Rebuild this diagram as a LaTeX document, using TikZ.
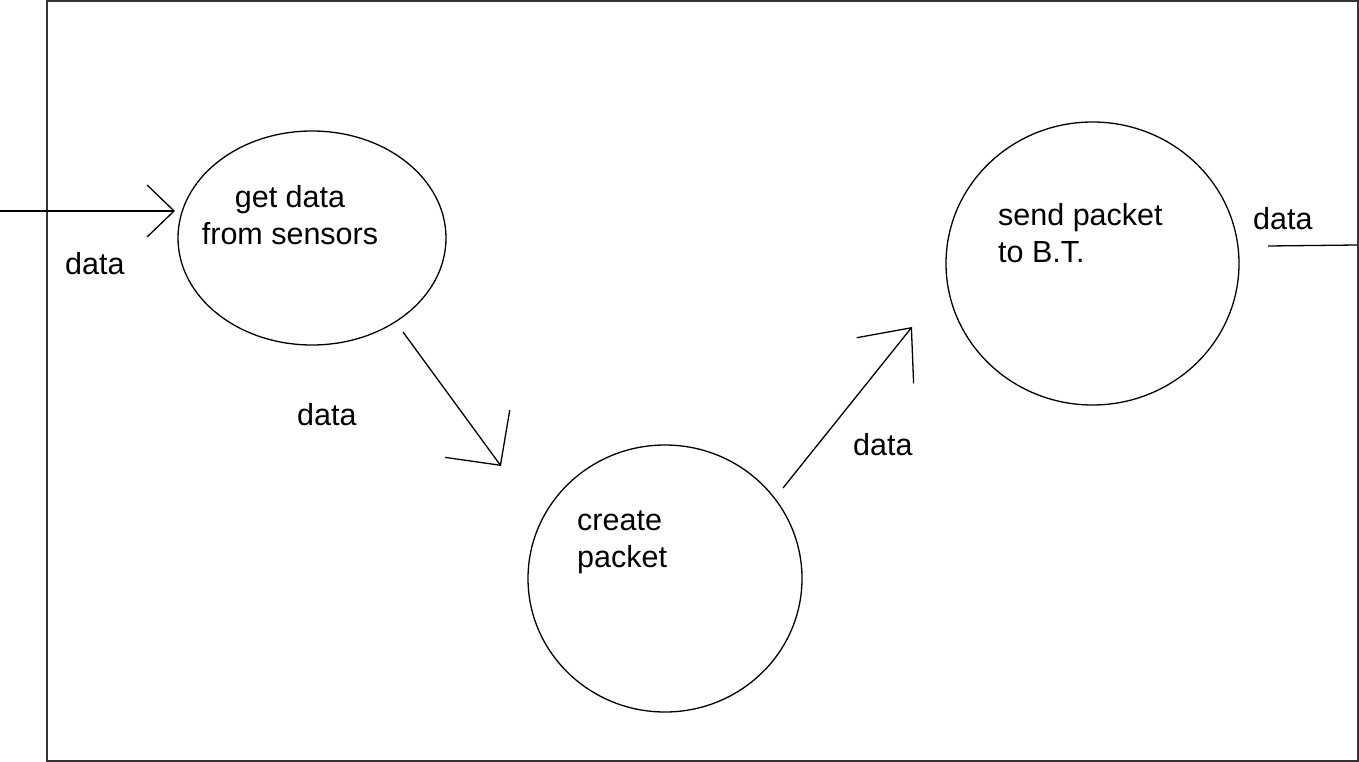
\documentclass[tikz,border=0pt]{standalone}
\usepackage{fontspec}
\setmainfont{Liberation Sans}
\usetikzlibrary{shapes.geometric,arrows.meta}

\tikzset{
  process/.style={draw=black, line width=1.3pt, shape=ellipse, inner sep=0pt},
  flow/.style={draw=black, line width=1.3pt},
  openhead/.style 2 args={-{Straight Barb[length=#1pt,width=#2pt,line width=1.3pt]}},
  lbl/.style={inner sep=0pt, font=\fontsize{30.5}{36.5}\selectfont},
  frame/.style={draw=black!80, line width=2.4pt}
}

\begin{document}
\begin{tikzpicture}[x=1pt,y=-1pt]
  \useasboundingbox (0,0) rectangle (1359,762);
  \fill[white] (0,0) rectangle (1359,762);

  % system boundary
  \draw[frame] (47,1.2) rectangle (1357.8,760.8);

  % processes
  \node[process, minimum width=268pt, minimum height=214pt] (get) at (312,238) {};
  \node[process, minimum width=274pt, minimum height=267pt] (create) at (665,578.5) {};
  \node[process, minimum width=293pt, minimum height=283pt] (send) at (1092.5,263.5) {};

  % process texts (base anchor sits on the last line)
  \node[lbl, align=center, anchor=base] (gettxt) at (290,244) {get data\\from sensors};
  \node[lbl, align=left, anchor=base west] (createtxt) at (577,567) {create\\packet};
  \node[lbl, align=left, anchor=base west] (sendtxt) at (998,262) {send packet\\to B.T.};

  % flow end points
  \coordinate (inL) at (0,211);
  \coordinate (inR) at (175,211);
  \coordinate (a2s) at (403,332);
  \coordinate (a2e) at (501,466);
  \coordinate (a3s) at (783,488);
  \coordinate (a3e) at (912,327);
  \coordinate (outL) at (1268,246);
  \coordinate (outR) at (1357,245);

  % data flows
  \draw[flow, openhead={27}{52}] (inL) -- (inR);
  \draw[flow, openhead={39}{80}] (a2s) -- (a2e);
  \draw[flow, openhead={42}{73}] (a3s) -- (a3e);
  \draw[flow] (outL) -- (outR);

  % flow labels
  \node[lbl, anchor=base west] (d1) at (65,274) {data};
  \node[lbl, anchor=base west] (d2) at (297,425) {data};
  \node[lbl, anchor=base west] (d3) at (853,455) {data};
  \node[lbl, anchor=base west] (d4) at (1253,229) {data};
\end{tikzpicture}
\end{document}
